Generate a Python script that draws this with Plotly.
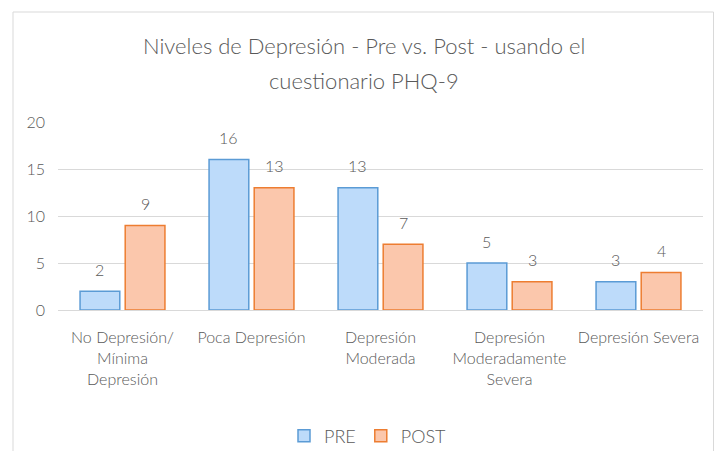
import plotly.graph_objects as go

categories = ["No Depresión/<br>Mínima<br>Depresión", "Poca Depresión", "Depresión<br>Moderada",
              "Depresión<br>Moderadamente<br>Severa", "Depresión Severa"]
pre = [2, 16, 13, 5, 3]
post = [9, 13, 7, 3, 4]
title_lines = ["Niveles de Depresión - Pre vs. Post - usando el", "cuestionario PHQ-9"]

# the page body adds an 8px margin, so the figure is 16px smaller than the window
W, H = 706, 443
L, R, T, B = 50, 11, 114, 141
font = "Lato, 'Open Sans', sans-serif"
grey = "#595959"
BARGAP, GROUPGAP = 0.30, 0.12

pw, ph = W - L - R, H - T - B
slot = pw / len(categories) * (1 - BARGAP) / 2

fig = go.Figure()
fig.add_trace(go.Bar(name="PRE", x=categories, y=pre,
                     marker=dict(color="#bddbfa", line=dict(color="#5b9bd5", width=1.5))))
fig.add_trace(go.Bar(name="POST", x=categories, y=post,
                     marker=dict(color="#fbc7ac", line=dict(color="#ed7d31", width=1.5))))

for vals, sign in ((pre, -1), (post, 1)):
    for c, v in zip(categories, vals):
        fig.add_annotation(x=c, y=v, xref="x", yref="y", text=str(v), showarrow=False,
                           xshift=sign * slot / 2, yshift=22, yanchor="middle",
                           font=dict(size=16, color=grey, family=font, weight=300))

fig.add_shape(type="rect", xref="paper", yref="paper",
              x0=(5 - L) / pw, x1=(705.5 - L) / pw, y0=(H - B - 460) / ph, y1=(H - B - 4) / ph,
              line=dict(color="#d9d9d9", width=1), fillcolor="rgba(0,0,0,0)", layer="below")

for line, ypx in zip(title_lines, [37, 72]):
    fig.add_annotation(text=line, xref="paper", yref="paper", x=(356 - L) / pw,
                       y=(H - B - ypx) / ph, xanchor="center", yanchor="middle", showarrow=False,
                       font=dict(size=22, color=grey, family=font, weight=300))

fig.update_layout(
    width=W, height=H, margin=dict(l=L, r=R, t=T, b=B, autoexpand=False),
    paper_bgcolor="white", plot_bgcolor="white",
    barmode="group", bargap=BARGAP, bargroupgap=GROUPGAP,
    font=dict(family=font, color=grey, size=16, weight=300),
    yaxis=dict(range=[0, 20], dtick=5, showgrid=True, gridcolor="#d9d9d9", gridwidth=1,
               zeroline=True, zerolinecolor="#d9d9d9", zerolinewidth=1, showline=False,
               tickfont=dict(size=16, color=grey, weight=300), ticklabelstandoff=12,
               automargin=False),
    xaxis=dict(showline=False, tickfont=dict(size=16, color=grey, weight=300), ticks="",
               ticklabelstandoff=16, automargin=False),
    legend=dict(orientation="h", x=(276 - L) / pw, xanchor="left",
                y=-(428 - (H - B)) / ph, yanchor="middle",
                font=dict(size=18, color=grey, weight=300), itemwidth=30, traceorder="normal"),
)

fig.write_html("out.html")
